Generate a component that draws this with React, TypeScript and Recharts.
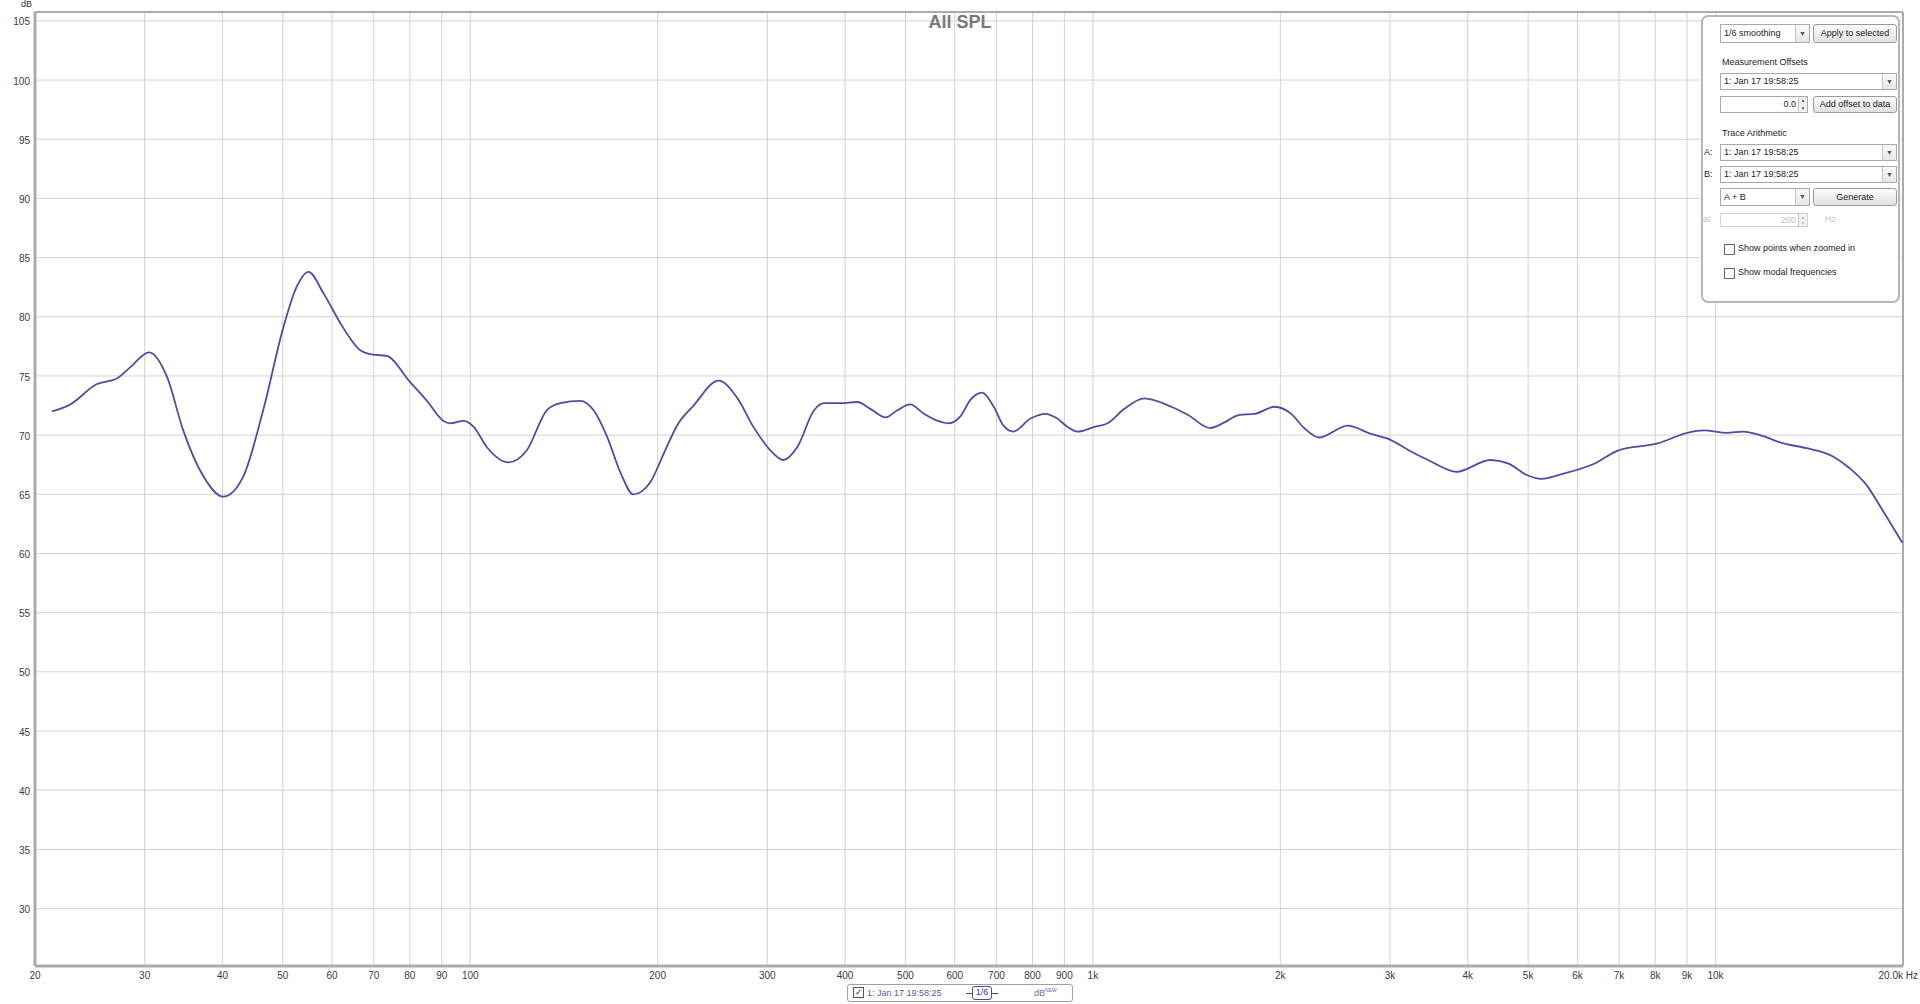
import React from 'react';
import { LineChart, Line, XAxis, YAxis, CartesianGrid, ReferenceLine } from 'recharts';

const freqHz = [
  21.3, 22.8, 25.1, 27.1, 28.4, 30.5, 32.6, 34.6, 37.3, 40.1, 43.2, 46.5, 50.1, 52.6, 55.0, 58.1,
  61.8, 64.1, 66.5, 69.8, 73.4, 80, 85.2, 90.6, 92.8, 97.6, 101.3, 106.3, 115.2, 123.2, 132.7,
  139.5, 150.2, 157.8, 165.8, 174.4, 182.8, 194.5, 204.4, 214.8, 228.4, 250.5, 268, 285, 303.6,
  318.2, 335.2, 356.6, 370, 393.6, 418.4, 439.7, 464.6, 485.3, 508.6, 535.6, 587, 613, 636, 664,
  693, 718.5, 745, 794, 839, 876.6, 910, 944, 1006, 1056, 1122, 1210, 1336, 1422, 1542, 1630,
  1714, 1820, 1958, 2082, 2184, 2310, 2566, 2798, 2976, 3246, 3454, 3838, 4346, 4652, 4946,
  5256, 5656, 6396, 6970, 8070, 9010, 9570, 10430, 11090, 11790, 12850, 14000, 15440, 16420,
  17470, 18470, 19950,
];
const splDb = [
  72.0, 72.6, 74.3, 74.8, 75.7, 77.0, 74.9, 70.4, 66.5, 64.8, 66.5, 72.1, 79.1, 82.5, 83.8, 82.0,
  79.5, 78.2, 77.2, 76.8, 76.7, 74.5, 72.9, 71.2, 71.0, 71.2, 70.7, 69.0, 67.7, 68.7, 72.1,
  72.7, 72.9, 72.1, 69.9, 66.8, 65.0, 66.0, 68.4, 70.8, 72.5, 74.6, 73.2, 70.7, 68.7,
  67.9, 69.0, 72.1, 72.7, 72.7, 72.8, 72.2, 71.5, 72.1, 72.6, 71.8, 71.0, 71.6, 73.0, 73.6,
  72.4, 70.8, 70.3, 71.4, 71.8, 71.4, 70.7, 70.3, 70.7, 71.0, 72.2, 73.1, 72.4, 71.7, 70.6, 71.1,
  71.7, 71.8, 72.4, 71.8, 70.6, 69.8, 70.8, 70.1, 69.7, 68.6, 67.9, 66.9, 67.9, 67.6, 66.7,
  66.3, 66.7, 67.6, 68.7, 69.3, 70.2, 70.4, 70.2, 70.3, 70.0, 69.3, 68.9, 68.2, 67.2,
  65.8, 63.8, 60.9,
];

const xTicks = [
  20, 30, 40, 50, 60, 70, 80, 90, 100, 200, 300, 400, 500, 600, 700, 800, 900,
  1000, 2000, 3000, 4000, 5000, 6000, 7000, 8000, 9000, 10000, 20000,
];
const yTicks = [30, 35, 40, 45, 50, 55, 60, 65, 70, 75, 80, 85, 90, 95, 100, 105];
const yMin = 25.15;
const yMax = 105.75;

const chartTitle = 'All SPL';
const traceName = '1: Jan 17 19:58:25';

const data = freqHz.map((f, i) => ({ f, spl: splDb[i] }));

const font = '"Liberation Sans", Arial, sans-serif';
const lineColor = '#4d4da6';
const gridColor = '#d2d2d2';
const frameColor = '#ababab';

const fmtHz = (v: number) => {
  if (v === 20000) return '20.0k Hz';
  if (v >= 1000) return `${v / 1000}k`;
  return `${v}`;
};

const XTick = (props: any) => {
  const { x, y, payload } = props;
  const last = payload.value === 20000;
  return (
    <text
      x={last ? 1918 : x}
      y={y}
      dy="0.71em"
      textAnchor={last ? 'end' : 'middle'}
      fontSize={10}
      fontFamily={font}
      fill="#3a3a3a"
    >
      {fmtHz(payload.value)}
    </text>
  );
};

const YTick = (props: any) => {
  const { x, y, payload } = props;
  return (
    <text x={x} y={y + 1} dy="0.355em" textAnchor="end" fontSize={10} fontFamily={font} fill="#3a3a3a">
      {payload.value}
    </text>
  );
};

const abs = (left: number, top: number, w?: number, h?: number): React.CSSProperties => ({
  position: 'absolute',
  left,
  top,
  width: w,
  height: h,
  boxSizing: 'border-box',
});

const Arrow = ({ h }: { h: number }) => (
  <div
    style={{
      position: 'absolute',
      right: 0,
      top: 0,
      width: 13,
      height: h - 2,
      borderLeft: '1px solid #c4c4c4',
      background: 'linear-gradient(#fafafa, #e6e6e6)',
      fontSize: 7,
      color: '#555',
      textAlign: 'center',
      lineHeight: `${h - 2}px`,
    }}
  >
    ▼
  </div>
);

const Select = ({ left, top, w, h, text }: any) => (
  <div
    style={{
      ...abs(left, top, w, h),
      border: '1px solid #a9a9a9',
      background: '#fff',
      fontSize: 9,
      lineHeight: `${h - 2}px`,
      paddingLeft: 3,
      color: '#222',
    }}
  >
    {text}
    <Arrow h={h} />
  </div>
);

const Button = ({ left, top, w, h, text }: any) => (
  <div
    style={{
      ...abs(left, top, w, h),
      border: '1px solid #9a9a9a',
      borderRadius: 3,
      background: 'linear-gradient(#fbfbfb, #e2e2e2)',
      fontSize: 9,
      lineHeight: `${h - 2}px`,
      textAlign: 'center',
      color: '#222',
    }}
  >
    {text}
  </div>
);

const Spin = ({ left, top, w, h, text, disabled }: any) => (
  <div
    style={{
      ...abs(left, top, w, h),
      border: `1px solid ${disabled ? '#d0d0d0' : '#a9a9a9'}`,
      background: '#fff',
      fontSize: 9,
      lineHeight: `${h - 2}px`,
      textAlign: 'right',
      paddingRight: 11,
      color: disabled ? '#c0c0c0' : '#222',
    }}
  >
    {text}
    <div
      style={{
        position: 'absolute',
        right: 0,
        top: 0,
        width: 8,
        height: h - 2,
        borderLeft: '1px solid #c8c8c8',
        fontSize: 5,
        lineHeight: `${(h - 2) / 2}px`,
        textAlign: 'center',
        color: disabled ? '#bbb' : '#666',
        background: '#f2f2f2',
      }}
    >
      ▲<br />▼
    </div>
  </div>
);

const Label = ({ left, top, text, color }: any) => (
  <div style={{ ...abs(left, top), fontSize: 9, color: color || '#222', whiteSpace: 'nowrap' }}>{text}</div>
);

const CheckRow = ({ top, text }: any) => (
  <>
    <div style={{ ...abs(1724, top, 11, 11), border: '1px solid #666', background: '#fff' }} />
    <Label left={1738} top={top - 1} text={text} />
  </>
);

export default function App() {
  return (
    <div style={{ position: 'absolute', left: 0, top: 0, width: 1920, height: 1004, background: '#fff', fontFamily: font }}>
      <LineChart width={1920} height={1004} data={data} margin={{ top: 12, right: 17, left: 0, bottom: 0 }}>
        <CartesianGrid stroke={gridColor} strokeWidth={1} />
        <XAxis
          dataKey="f"
          type="number"
          scale="log"
          domain={[20, 20000]}
          ticks={xTicks}
          allowDataOverflow
          height={38}
          tickSize={0}
          tickMargin={6}
          tick={XTick}
          axisLine={{ stroke: frameColor, strokeWidth: 3 }}
          interval={0}
        />
        <YAxis
          type="number"
          domain={[yMin, yMax]}
          ticks={yTicks}
          allowDataOverflow
          width={35}
          tickSize={0}
          tickMargin={5}
          tick={YTick}
          axisLine={{ stroke: frameColor, strokeWidth: 3 }}
          interval={0}
        />
        <ReferenceLine y={yMax} stroke={frameColor} strokeWidth={2} />
        <ReferenceLine x={20000} stroke={frameColor} strokeWidth={2} />
        <Line
          type="monotone"
          dataKey="spl"
          stroke={lineColor}
          strokeWidth={1.8}
          dot={false}
          isAnimationActive={false}
        />
      </LineChart>

      <div style={{ ...abs(21, -1), fontSize: 9, color: '#333' }}>dB</div>
      <div style={{ ...abs(860, 12, 200), textAlign: 'center', fontSize: 18, fontWeight: 'bold', color: '#7a7a7a' }}>
        {chartTitle}
      </div>

      {/* side panel */}
      <div style={{ ...abs(1701, 15, 199, 288), border: '2px solid #b6b6b6', borderRadius: 7, background: '#fff' }} />
      <Select left={1720} top={24} w={90} h={19} text="1/6 smoothing" />
      <Button left={1813} top={24} w={84} h={19} text="Apply to selected" />
      <Label left={1722} top={57} text="Measurement Offsets" />
      <Select left={1720} top={73} w={177} h={17} text={traceName} />
      <Spin left={1720} top={96} w={88} h={17} text="0.0" />
      <Button left={1813} top={96} w={84} h={17} text="Add offset to data" />
      <Label left={1722} top={128} text="Trace Arithmetic" />
      <Label left={1704} top={147} text="A:" />
      <Select left={1720} top={144} w={177} h={17} text={traceName} />
      <Label left={1704} top={169} text="B:" />
      <Select left={1720} top={166} w={177} h={17} text={traceName} />
      <Select left={1720} top={188} w={90} h={18} text="A + B" />
      <Button left={1813} top={188} w={84} h={18} text="Generate" />
      <Label left={1703} top={214} text="at" color="#c0c0c0" />
      <Spin left={1720} top={213} w={88} h={14} text="200" disabled />
      <Label left={1825} top={214} text="Hz" color="#c0c0c0" />
      <CheckRow top={244} text="Show points when zoomed in" />
      <CheckRow top={268} text="Show modal frequencies" />

      {/* trace legend */}
      <div style={{ ...abs(847, 984, 226, 18), border: '1px solid #a0a0a0', borderRadius: 3, background: '#fff' }} />
      <div
        style={{
          ...abs(853, 987, 11, 11),
          border: '1px solid #555',
          fontSize: 9,
          lineHeight: '9px',
          textAlign: 'center',
          color: '#333',
        }}
      >
        ✓
      </div>
      <Label left={867} top={988} text={traceName} color="#5a5aa8" />
      <div style={{ ...abs(966, 993, 32, 1), background: '#4a4aa8' }} />
      <div
        style={{
          ...abs(972, 986, 20, 14),
          border: '1.5px solid #4a4aa8',
          borderRadius: 3,
          background: '#fff',
          fontSize: 9,
          lineHeight: '11px',
          textAlign: 'center',
          color: '#3a3a9a',
        }}
      >
        1/6
      </div>
      <div style={{ ...abs(1034, 987), fontSize: 9, color: '#6a6ab8', whiteSpace: 'nowrap' }}>
        dB<sup style={{ fontSize: 5 }}>NEW</sup>
      </div>
    </div>
  );
}
